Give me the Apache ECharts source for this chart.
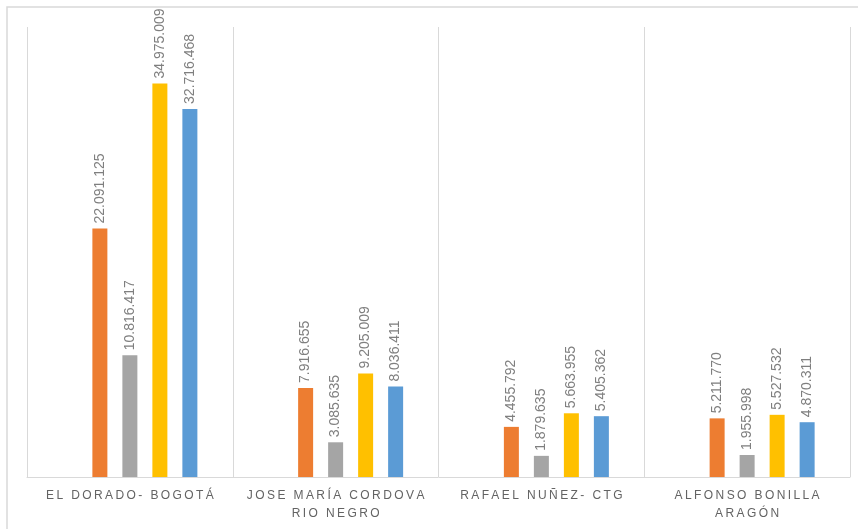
<!DOCTYPE html>
<html>
<head>
<meta charset="utf-8">
<script src="https://cdn.jsdelivr.net/npm/echarts@6/dist/echarts.min.js"></script>
<style>
html,body{margin:0;padding:0;background:#fff;}
#chart{width:858px;height:529px;}
</style>
</head>
<body>
<div id="chart"></div>
<script>
var categories = ['EL DORADO- BOGOTÁ', 'JOSE MARÍA CORDOVA\nRIO NEGRO', 'RAFAEL NUÑEZ- CTG', 'ALFONSO BONILLA\nARAGÓN'];
var seriesEmpty = [null, null, null, null];
var seriesOrange = [22091125, 7916655, 4455792, 5211770];
var seriesGray = [10816417, 3085635, 1879635, 1955998];
var seriesYellow = [34975009, 9205009, 5663955, 5527532];
var seriesBlue = [32716468, 8036411, 5405362, 4870311];
var colors = ['#4472C4', '#ED7D31', '#A5A5A5', '#FFC000', '#5B9BD5'];

function fmt(v) {
  return String(v).replace(/\B(?=(\d{3})+(?!\d))/g, '.');
}
function spaced(s) {
  return s.split('\n').map(function (line) {
    return line.split('').join('\u2009');
  }).join('\n');
}

var labelOpt = {
  show: true,
  position: 'top',
  rotate: 90,
  align: 'left',
  verticalAlign: 'middle',
  distance: 5,
  color: '#7f7f7f',
  fontFamily: 'Liberation Sans',
  fontSize: 14,
  formatter: function (p) { return p.value == null ? '' : fmt(p.value); }
};

function mk(data, color, showLabel) {
  return {
    type: 'bar',
    data: data,
    barWidth: 15,
    barGap: '100%',
    itemStyle: { color: color },
    label: showLabel ? labelOpt : { show: false },
    silent: true
  };
}

var chart = echarts.init(document.getElementById('chart'), null, { renderer: 'canvas' });
chart.setOption({
  animation: false,
  backgroundColor: '#fff',
  graphic: [{
    type: 'rect',
    shape: { x: 7, y: 7, width: 870, height: 540 },
    style: { fill: null, stroke: '#d9d9d9', lineWidth: 1.5 },
    silent: true
  }],
  grid: { left: 27, right: 8, top: 27, bottom: 52, containLabel: false },
  xAxis: {
    type: 'category',
    data: categories,
    boundaryGap: true,
    axisLine: { show: true, lineStyle: { color: '#d9d9d9', width: 1 } },
    axisTick: { show: false },
    splitLine: { show: true, lineStyle: { color: '#d9d9d9', width: 1 } },
    axisLabel: {
      interval: 0,
      margin: 10,
      color: '#636363',
      fontFamily: 'Liberation Sans',
      fontSize: 12,
      lineHeight: 18,
      formatter: function (v) { return spaced(v); }
    }
  },
  yAxis: {
    type: 'value',
    min: 0,
    max: 40000000,
    interval: 5000000,
    show: false,
    splitLine: { show: false }
  },
  series: [
    mk(seriesEmpty, colors[0], false),
    mk(seriesOrange, colors[1], true),
    mk(seriesGray, colors[2], true),
    mk(seriesYellow, colors[3], true),
    mk(seriesBlue, colors[4], true)
  ]
});
</script>
</body>
</html>
